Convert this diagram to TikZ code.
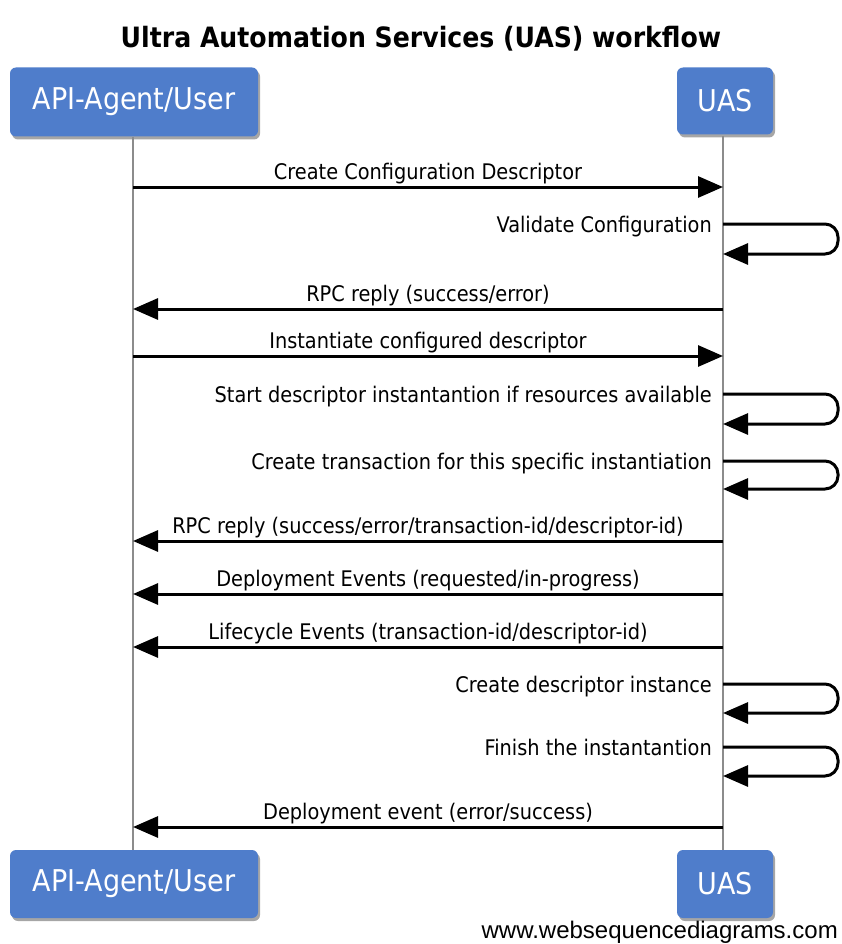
\documentclass[tikz,border=0pt]{standalone}
\usepackage{fontspec}
\setmainfont{DejaVu Sans Condensed}
\newfontfamily\wmfont{Liberation Sans}
\usetikzlibrary{arrows.meta,shadows}
\begin{document}
\begin{tikzpicture}[x=1pt,y=-1pt,
  actor/.style={draw=none, fill=actorblue, rounded corners=6pt, text=white,
    font=\fontsize{30}{33}\selectfont, inner sep=0pt,
    drop shadow={shadow xshift=2pt, shadow yshift=-3pt, fill=black, opacity=0.35}},
  life/.style={draw=black!45, line width=2pt},
  msg/.style={draw=black, line width=3pt, -{Triangle[length=25pt,width=21pt]}},
  lbl/.style={font=\fontsize{21.5}{24}\selectfont, inner sep=0pt},
]
\definecolor{actorblue}{HTML}{4F7DCB}
\useasboundingbox (0,0) rectangle (842,944);
\fill[white] (0,0) rectangle (842,944);
\node[font=\bfseries\fontsize{28}{31}\selectfont] (title) at (421,39) {Ultra Automation Services (UAS) workflow};
% actors
\node[actor, minimum width=248pt, minimum height=69pt] (ta) at (134,102) {API-Agent/User};
\node[actor, minimum width=96pt, minimum height=67pt] (tb) at (725,101) {UAS};
\node[actor, minimum width=248pt, minimum height=68pt] (ba) at (134,884) {API-Agent/User};
\node[actor, minimum width=96pt, minimum height=68pt] (bb) at (725,884) {UAS};
\draw[life] (133,137) -- (133,850);
\draw[life] (723,136) -- (723,850);
\coordinate (A) at (133,0);
\coordinate (B) at (723,0);
% messages
\newcommand\rmsg[2]{%
  \draw[msg] (A |- 0,#1) -- (B |- 0,#1);
  \node[lbl, anchor=base] at (428,#1-8) {#2};}
\newcommand\lmsg[2]{%
  \draw[msg] (B |- 0,#1) -- (A |- 0,#1);
  \node[lbl, anchor=base] at (428,#1-8) {#2};}
\newcommand\smsg[3]{%
  \draw[msg, rounded corners=13pt] (B |- 0,#1) -- (838,#1) -- (838,#2) -- (B |- 0,#2);
  \node[lbl, anchor=base east] at (712,#1+8) {#3};}
\rmsg{187}{Create Configuration Descriptor}
\smsg{224}{254}{Validate Configuration}
\lmsg{309}{RPC reply (success/error)}
\rmsg{356}{Instantiate configured descriptor}
\smsg{394}{424}{Start descriptor instantantion if resources available}
\smsg{461}{489}{Create transaction for this specific instantiation}
\lmsg{541}{RPC reply (success/error/transaction-id/descriptor-id)}
\lmsg{594}{Deployment Events (requested/in-progress)}
\lmsg{647}{Lifecycle Events (transaction-id/descriptor-id)}
\smsg{684}{713}{Create descriptor instance}
\smsg{747}{776}{Finish the instantantion}
\lmsg{827}{Deployment event (error/success)}
\node[font=\wmfont\fontsize{24}{26}\selectfont, anchor=base east, inner sep=0pt] (wm) at (838,938) {www.websequencediagrams.com};
\end{tikzpicture}
\end{document}
